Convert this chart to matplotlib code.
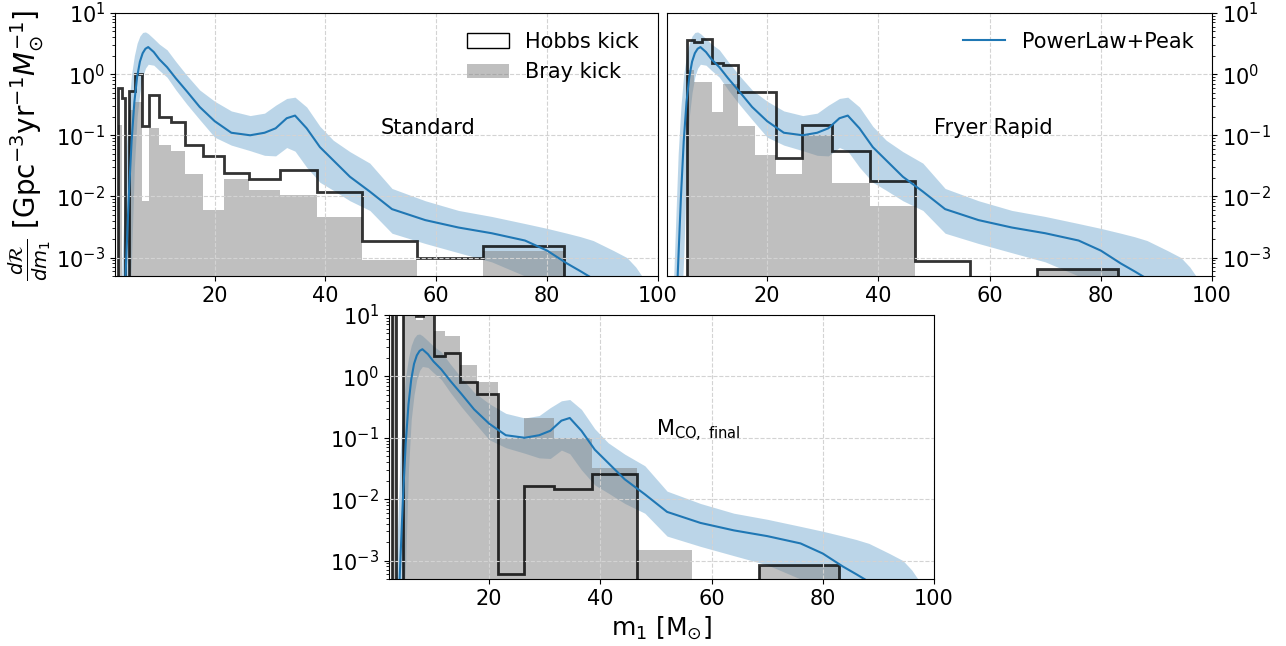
import matplotlib
matplotlib.use("Agg")
import matplotlib.pyplot as plt
from matplotlib.patches import Patch

# PowerLaw+Peak model: median and 90% band
m_model = [3.0, 3.2, 3.6, 4.0, 4.5, 5.0, 5.5, 6.0, 6.5, 7.0, 7.5, 8.0, 9.0, 10.0,
           11.4, 13.0, 15.0, 17.3, 20.0, 23.0, 26.4, 29.0, 31.0, 33.0, 34.5, 36.6,
           39.0, 41.4, 44.4, 48.0, 52.0, 58.0, 64.0, 70.0, 76.0, 80.0, 83.6, 86.0,
           88.3, 92.0, 94.4, 96.0, 97.1, 98.0]
med_model = [1e-6, 1e-6, 1e-4, 8e-4, 0.01, 0.08, 0.35, 0.9, 1.6, 2.2, 2.6, 2.77, 2.3, 1.75,
             1.3, 0.85, 0.52, 0.29, 0.17, 0.11, 0.1, 0.11, 0.13, 0.19, 0.21, 0.13,
             0.064, 0.039, 0.021, 0.012, 0.0062, 0.0041, 0.0031, 0.0025, 0.0019, 0.0013, 8e-4, 6e-4,
             4.5e-4, 2e-4, 1e-4, 6e-5, 5e-5, 2e-5]
lo_model = [1e-6, 1e-6, 1e-6, 1e-6, 1e-4, 1e-3, 0.03, 0.2, 0.5, 0.9, 1.25, 1.45, 1.4, 1.15,
            0.89, 0.55, 0.32, 0.18, 0.093, 0.069, 0.056, 0.047, 0.046, 0.063, 0.055, 0.03,
            0.017, 0.0126, 0.0085, 0.0059, 0.0025, 0.0017, 0.0012, 8.5e-4, 5e-4, 3e-4, 1.5e-4, 8e-5,
            5e-5, 2e-5, 1e-5, 1e-5, 1e-5, 1e-5]
hi_model = [1e-4, 5e-4, 0.005, 0.05, 0.3, 1.0, 2.0, 3.2, 4.2, 4.8, 4.9, 4.6, 3.8, 3.1,
            2.5, 1.6, 0.95, 0.55, 0.36, 0.25, 0.21, 0.23, 0.31, 0.4, 0.42, 0.29,
            0.14, 0.083, 0.054, 0.035, 0.0135, 0.0085, 0.0059, 0.0047, 0.0036, 0.003, 0.0025, 0.0022,
            0.0019, 0.0013, 0.001, 7e-4, 5e-4, 2e-4]

# histogram bin edges (log spaced) and rates
edges = [2.6, 3.2, 3.8, 4.6, 5.6, 6.8, 8.2, 10.0, 12.1, 14.7, 17.8, 21.6, 26.2,
         31.7, 38.5, 46.6, 56.5, 68.5, 83.0, 100.6]

hobbs_std = [0.6, 0.4, 0, 0.52, 1.0, 0.14, 0.45, 0.2, 0.166, 0.069, 0.046, 0.024,
             0.0195, 0.0275, 0.0117, 0.0019, 0.001, 0.00155, 0]
bray_std = [0.15, 0, 0, 0.26, 0.35, 0.0083, 0.13, 0.069, 0.055, 0.0234, 0.0059, 0.0195,
            0.0129, 0.0107, 0.0046, 0.00092, 0, 0.00126, 0]

hobbs_fr = [0, 0, 0, 0, 3.6, 3.3, 3.7, 1.53, 1.4, 0.51, 0.51, 0.043,
            0.15, 0.055, 0.018, 0.00087, 0, 0.00065, 0]
bray_fr = [0, 0, 0, 0, 1.16, 0.75, 0.75, 0.24, 0.7, 0.14, 0.047, 0.023,
           0.1, 0.0165, 0.0069, 0, 0, 0.00062, 0]

hobbs_co = [30, 0, 0, 30, 30, 9.6, 30, 2.14, 2.4, 0.82, 0.52, 0.0006,
            0.0164, 0.0148, 0.0257, 0, 0, 0.00085, 0]
bray_co = [30, 0, 0, 30, 30, 8.3, 30, 5.4, 4.5, 1.53, 0.82, 0.098,
           0.21, 0.098, 0.032, 0.0015, 0, 0.0008, 0]

panels = ['Standard', 'Fryer Rapid', r'M$_{\rm CO,\ final}$']
xticks = [20, 40, 60, 80, 100]

fs = 15
fig = plt.figure(figsize=(12.86, 6.46), dpi=100)
ax1 = fig.add_axes([0.0894, 0.5728, 0.4222, 0.4071])
ax2 = fig.add_axes([0.5187, 0.5728, 0.4238, 0.4071])
ax3 = fig.add_axes([0.3025, 0.1037, 0.4238, 0.4087])

data = [(ax1, hobbs_std, bray_std), (ax2, hobbs_fr, bray_fr), (ax3, hobbs_co, bray_co)]
floor = 1e-7

for (ax, hobbs, bray), name in zip(data, panels):
    ax.fill_between(m_model, lo_model, hi_model, color='C0', alpha=0.3, lw=0)
    ax.plot(m_model, med_model, color='C0', lw=1.5, label='PowerLaw+Peak')
    ax.stairs([max(v, floor) for v in bray], edges, baseline=floor, fill=True,
              color='grey', alpha=0.5, lw=0)
    ax.stairs([max(v, floor) for v in hobbs], edges, baseline=floor,
              color='k', alpha=0.8, lw=2)
    ax.set_yscale('log')
    ax.set_xlim(2, 100)
    ax.set_ylim(5e-4, 10)
    ax.set_xticks(xticks)
    ax.grid(True, which='major', ls='--', color='lightgrey', lw=0.8)
    ax.tick_params(labelsize=fs)
    ax.text(50, 0.13, name, fontsize=fs, va='center')

ax2.yaxis.tick_right()
ax2.yaxis.set_label_position('right')

handles = [Patch(facecolor='white', edgecolor='k', label='Hobbs kick'),
           Patch(facecolor='grey', alpha=0.5, label='Bray kick')]
ax1.legend(handles=handles, loc='upper right', frameon=False, fontsize=fs)
ax2.legend(loc='upper right', frameon=False, fontsize=fs)

fig.text(30 / 1286, 1 - 145 / 646,
         r'$\frac{d\mathcal{R}}{dm_1}$ [Gpc$^{-3}$yr$^{-1}$$M_{\odot}^{-1}$]',
         rotation=90, ha='center', va='center', fontsize=20)
ax3.set_xlabel(r'm$_1$ [M$_{\odot}$]', fontsize=18)

fig.savefig('out.png', dpi=100)
